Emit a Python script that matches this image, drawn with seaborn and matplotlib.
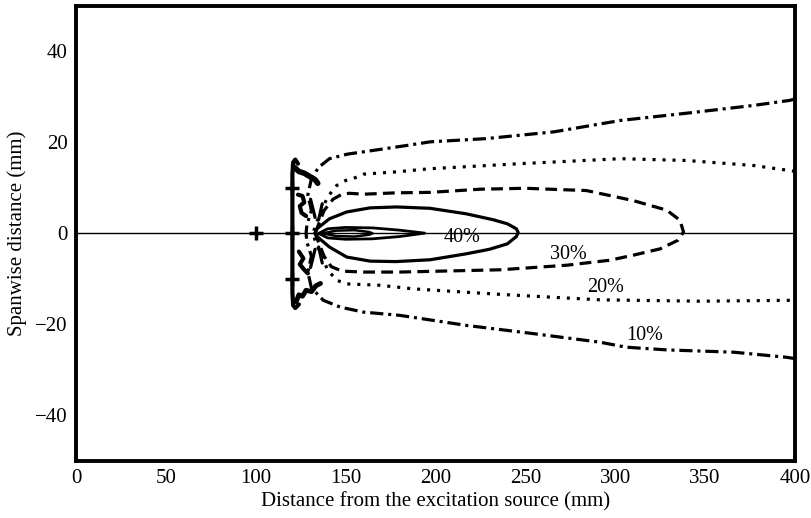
import matplotlib
matplotlib.use("Agg")
import matplotlib.pyplot as plt
from matplotlib.ticker import MultipleLocator
import seaborn as sns

# ---- contour paths (x: distance from source, y: spanwise position), mm ----
# 10 % level: upper branch (right -> left), wrap near source, lower branch (left -> right)
c10_x = [400, 397, 377, 340, 303, 266, 228, 197, 184, 165, 151, 141, 135,
         131, 129, 131, 128.5, 128, 128.5, 131, 129, 131,
         137.6, 147, 160, 180, 217, 254, 291.5, 306, 329, 366, 395, 400]
c10_y = [29.5, 29.2, 28.1, 26.4, 24.8, 22.3, 20.8, 20.1, 19.3, 18.2, 17.4, 16.4, 14.5,
         12.0, 8.5, 5.0, 2.0, 0.0, -2.0, -5.0, -8.5, -12.0,
         -14.7, -16.2, -17.3, -18.0, -20.2, -22.0, -23.9, -25.0, -25.6, -26.1, -27.2, -27.5]

# 20 % level
c20_x = [400, 397, 377, 340, 303, 247, 197, 178, 160, 154, 150,
         145, 140, 136, 133, 132, 133, 136, 140, 145,
         150.6, 169, 188, 236, 291.5, 347, 399, 400]
c20_y = [13.6, 13.8, 14.9, 16.0, 16.4, 15.3, 14.2, 13.5, 13.0, 12.0, 11.6,
         10.5, 8.0, 4.5, 1.5, 0.0, -1.5, -4.5, -8.0, -10.3,
         -11.1, -11.4, -12.2, -13.4, -14.6, -14.9, -14.7, -14.7]

# 30 % level (closed)
c30_x = [133, 135, 138, 143, 148, 152, 160, 178, 197, 225, 250, 284, 310, 328.6,
         336, 338, 335, 325, 310, 297, 273, 236, 180, 160, 148, 142, 138, 135, 133]
c30_y = [0.0, 2.0, 5.0, 7.5, 8.6, 8.8, 8.6, 8.9, 9.0, 9.7, 9.9, 9.4, 7.2, 5.1,
         2.9, 0.3, -1.5, -3.4, -4.8, -5.9, -7.0, -8.0, -8.5, -8.5, -8.3, -7.3, -5.0, -2.0, 0.0]

# 40 % level (closed)
c40_x = [133, 134, 141, 150.6, 163.6, 178.4, 197, 217, 232, 240, 245, 246,
         245, 240, 230, 217, 197, 178, 163.6, 150.6, 141, 135, 133]
c40_y = [0.0, 1.0, 3.2, 4.7, 5.6, 5.8, 5.5, 4.3, 3.0, 2.1, 1.0, 0.2,
         -0.7, -2.3, -3.5, -4.5, -5.8, -6.2, -6.1, -5.2, -3.0, -1.0, 0.0]

# inner levels around the centreline
c50_x = [135, 140, 150, 165, 180, 194, 180, 165, 150, 140, 135]
c50_y = [0.0, 1.0, 1.3, 1.2, 0.7, 0.05, -0.7, -1.2, -1.3, -1.0, 0.0]
c60_x = [137, 145, 155, 163, 165, 163, 155, 145, 137]
c60_y = [0.0, 0.6, 0.7, 0.3, 0.0, -0.3, -0.7, -0.6, 0.0]

# edge of the excitation region and the broken contour pieces next to it
edge_x = [123.5, 122.0, 120.8, 120.4, 120.4, 120.8, 122.0, 124.0]
edge_y = [15.3, 16.2, 15.6, 13.0, -13.0, -15.8, -16.4, -15.6]
frag_a_x = [121.5, 124, 127, 130, 133, 134.5]
frag_a_y = [14.5, 13.6, 13.2, 12.5, 11.8, 11.0]
frag_b_x = [123.5, 126, 127, 124.5, 125.5, 128]
frag_b_y = [8.5, 8.2, 6.8, 6.0, 4.5, 3.8]
frag_c_x = [124, 126.5, 124.5, 127, 129]
frag_c_y = [-4.0, -5.5, -6.8, -8.0, -8.8]
frag_d_x = [122.5, 124, 126, 128, 131, 133.5, 136]
frag_d_y = [-15.0, -13.5, -13.8, -12.5, -12.8, -11.5, -11.0]

# short radial pieces fanning out from the source centre
fan_x = [[130.5, 133.0], [137.0, 135.0], [130.5, 133.0], [137.0, 135.0]]
fan_y = [[7.5, 3.5], [6.5, 3.0], [-7.5, -3.5], [-6.5, -3.0]]

# source / sensor marks
mark_x = [100, 120, 120, 120]
mark_y = [0, 0, 10, -10]

# level labels
lab_text = ["40%", "30%", "20%", "10%"]
lab_x = [215, 274, 294.5, 316.5]
lab_y = [-1.0, -4.6, -12.0, -22.5]

sns.set_theme(style="white")
plt.rcParams["font.family"] = ["Liberation Serif", "DejaVu Serif"]
plt.rcParams["lines.scale_dashes"] = False
plt.rcParams["lines.dash_capstyle"] = "butt"
plt.rcParams["lines.solid_capstyle"] = "round"

fig = plt.figure(figsize=(8.12, 5.18), dpi=100)
ax = fig.add_axes([0.0936, 0.110, 0.979 - 0.0936, 0.989 - 0.110])

ax.axhline(0, color="black", lw=1.0, zorder=1)

LW = 2.3
styles = [
    (c10_x, c10_y, (0, (9.5, 3.5, 2.2, 3.5)), LW),
    (c20_x, c20_y, (0, (2.2, 5.0)), LW),
    (c30_x, c30_y, (0, (8.5, 4.5)), LW),
    (c40_x, c40_y, "-", LW),
    (c50_x, c50_y, "-", 2.0),
    (c60_x, c60_y, "-", 1.8),
    (edge_x, edge_y, "-", 3.0),
    (frag_a_x, frag_a_y, "-", 4.0),
    (frag_b_x, frag_b_y, "-", 3.0),
    (frag_c_x, frag_c_y, "-", 3.0),
    (frag_d_x, frag_d_y, "-", 3.5),
]
for fx, fy in zip(fan_x, fan_y):
    styles.append((fx, fy, "-", LW))

for xs, ys, ls, lw in styles:
    sns.lineplot(x=xs, y=ys, sort=False, estimator=None, ax=ax,
                 color="black", linestyle=ls, lw=lw, zorder=3)

ax.plot(mark_x, mark_y, linestyle="none", marker="+", ms=10, mew=2.5,
        color="black", zorder=4)

for t, x, y in zip(lab_text, lab_x, lab_y):
    ax.text(x, y, t, ha="center", va="center", fontsize=14.5, color="black", zorder=5)

ax.set_xlim(0, 400)
ax.set_ylim(-50, 50)
ax.xaxis.set_major_locator(MultipleLocator(50))
ax.xaxis.set_minor_locator(MultipleLocator(25))
ax.yaxis.set_major_locator(MultipleLocator(20))
ax.yaxis.set_minor_locator(MultipleLocator(10))
ax.tick_params(which="both", direction="in", length=6, width=2.5, color="black",
               top=False, right=False, labelsize=15, labelcolor="black", pad=6)

for s in ax.spines.values():
    s.set_color("black")
    s.set_linewidth(2.8)
    s.set_visible(True)

ax.set_xlabel("Distance from the excitation source (mm)", fontsize=15, color="black", labelpad=3)
ax.set_ylabel("Spanwise distance (mm)", fontsize=15, color="black", labelpad=6)

fig.savefig("out.png", dpi=100)
